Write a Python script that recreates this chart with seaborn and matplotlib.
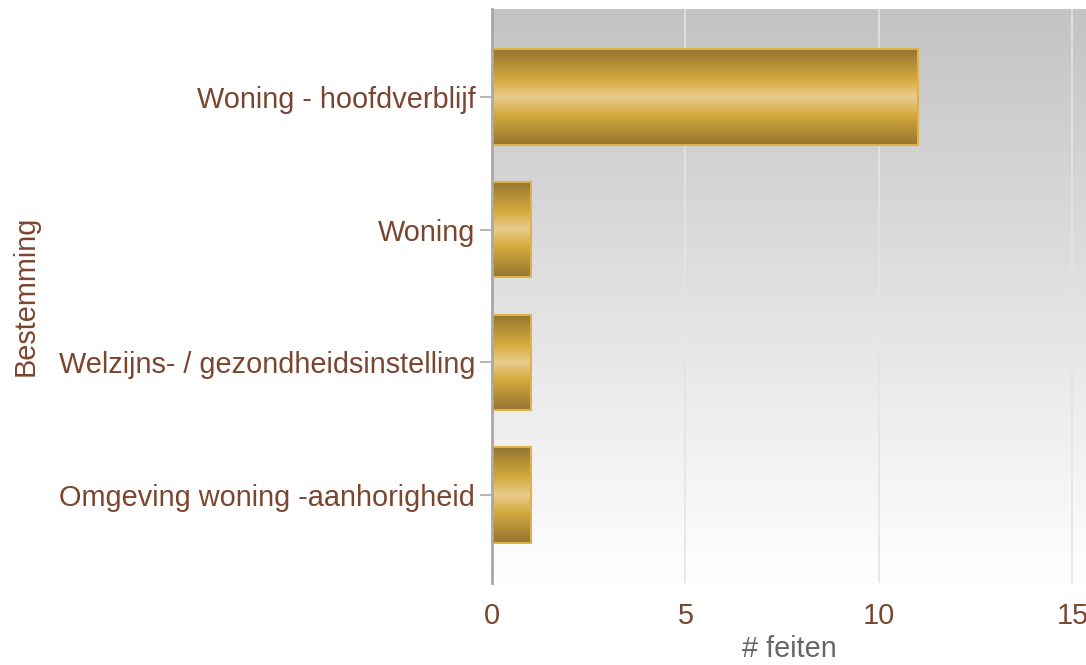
import numpy as np
import pandas as pd
import matplotlib
matplotlib.use("Agg")
import matplotlib.pyplot as plt
from matplotlib.colors import LinearSegmentedColormap
import seaborn as sns

categories = ["Woning - hoofdverblijf", "Woning", "Welzijns- / gezondheidsinstelling",
              "Omgeving woning -aanhorigheid"]
values = [11, 1, 1, 1]
xticks = [0, 5, 10, 15]

df = pd.DataFrame({"Bestemming": categories, "feiten": values})

sns.set_theme(style="white")
plt.rcParams["font.family"] = ["Liberation Sans", "DejaVu Sans"]

brown = "#7b4630"
fs = 20.8
fig = plt.figure(figsize=(10.86, 6.65), dpi=100)
ax = fig.add_axes([0.453, 0.1233, 0.547, 0.8632])

sns.barplot(data=df, y="Bestemming", x="feiten", orient="h", ax=ax,
            width=0.72, color="#d4a93a", saturation=1, zorder=3)

# background gradient
bg = LinearSegmentedColormap.from_list("bg", ["#ffffff", "#c3c3c3"])
grad = np.linspace(0, 1, 256).reshape(-1, 1)
ax.imshow(grad, cmap=bg, aspect="auto", extent=[0, 1, 0, 1],
          transform=ax.transAxes, origin="lower", zorder=0)

# gold gradient on bars
gold = LinearSegmentedColormap.from_list(
    "gold", [(0.0, "#927432"), (0.1, "#a88634"), (0.32, "#d6aa3e"),
             (0.5, "#e8cd8e"), (0.68, "#d6aa3e"), (0.9, "#a88634"), (1.0, "#927432")])
bgrad = np.linspace(0, 1, 256).reshape(-1, 1)
for p in ax.patches:
    x0, y0 = p.get_x(), p.get_y()
    w, h = p.get_width(), p.get_height()
    ax.imshow(bgrad, cmap=gold, aspect="auto", extent=[x0, x0 + w, y0 + h, y0],
              origin="upper", zorder=3)
    p.set_facecolor("none")
    p.set_edgecolor("#dcb24a")
    p.set_linewidth(1.5)
    p.set_zorder(4)

ax.set_xlim(0, 15.35)
ax.set_ylim(3.66, -0.66)

ax.set_xticks(xticks)
ax.grid(axis="x", color="#e4e4e4", linewidth=1.2, zorder=1)
ax.set_axisbelow(True)
for s in ["top", "right", "bottom"]:
    ax.spines[s].set_visible(False)
ax.spines["left"].set_color("#a8a8a8")
ax.spines["left"].set_linewidth(2)
ax.spines["left"].set_zorder(5)

ax.tick_params(axis="y", left=True, length=9, width=1.2, color="#a8a8a8",
               labelsize=fs, labelcolor=brown, pad=3)
ax.tick_params(axis="x", bottom=False, labelsize=fs, labelcolor=brown, pad=8)

ax.set_xlabel("# feiten", fontsize=fs, color="#666666", labelpad=3)
ax.set_ylabel("Bestemming", fontsize=fs, color=brown)
ax.yaxis.set_label_coords(-0.762, 0.5)

fig.savefig("out.png", dpi=100)
